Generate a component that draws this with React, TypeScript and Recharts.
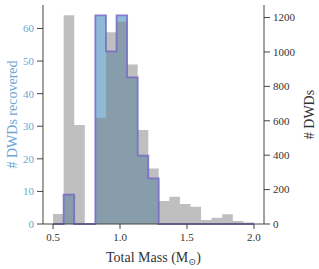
import { ComposedChart, Area, Line, XAxis, YAxis } from 'recharts'

// histogram bin edges in total mass (solar masses)
const binEdges = [
  0.5, 0.579, 0.658, 0.737, 0.816, 0.895, 0.974, 1.053, 1.132, 1.211, 1.289,
  1.368, 1.447, 1.526, 1.605, 1.684, 1.763, 1.842, 1.921, 2.0,
]
// all DWDs per bin (right axis)
const dwdCounts = [58, 1213, 576, 0, 618, 1115, 1175, 927, 547, 322, 133, 158, 116, 100, 23, 37, 56, 17, 8]
// recovered DWDs per bin (left axis)
const recoveredCounts = [0, 9, 0, 0, 64, 53, 64, 45, 21, 14, 0, 0, 0, 0, 0, 0, 0, 0, 0]

const massTicks = [0.5, 1.0, 1.5, 2.0]
const recoveredTicks = [0, 10, 20, 30, 40, 50, 60]
const dwdTicks = [0, 200, 400, 600, 800, 1000, 1200]

// stepAfter areas: each edge holds the value of the bin to its right
const data = binEdges.map((edge, i) => ({
  mass: edge,
  dwd: i < dwdCounts.length ? dwdCounts[i] : 0,
  recovered: i < recoveredCounts.length ? recoveredCounts[i] : 0,
}))

const FONT = '"Liberation Serif", "DejaVu Serif", serif'
const AXIS = '#444'
const BLUE_TEXT = '#6aa6d6'

function MassLabel({ viewBox }: any) {
  const { x, y, width } = viewBox
  return (
    <text x={x + width / 2} y={y + 38} textAnchor="middle" fontFamily={FONT} fontSize={14} fill="#333">
      Total Mass (M
      <tspan fontSize={9.5} dy={3}>⊙</tspan>
      <tspan dy={-3}>)</tspan>
    </text>
  )
}

function SideLabel({ viewBox, text, cx, color }: any) {
  const cy = viewBox.y + viewBox.height / 2
  return (
    <text
      x={cx}
      y={cy}
      transform={`rotate(-90 ${cx} ${cy})`}
      textAnchor="middle"
      dominantBaseline="central"
      fontFamily={FONT}
      fontSize={14}
      fill={color}
    >
      {text}
    </text>
  )
}

export default function App() {
  return (
    <div style={{ position: 'fixed', left: 0, top: 0, background: '#fff' }}>
      <ComposedChart
        width={319}
        height={269}
        data={data}
        margin={{ top: 5, right: 0, bottom: 0, left: 0 }}
      >
        <XAxis
          dataKey="mass"
          type="number"
          domain={[0.425, 2.075]}
          ticks={massTicks}
          tickFormatter={(v: number) => v.toFixed(1)}
          height={45}
          tickSize={5}
          tickMargin={4}
          stroke={AXIS}
          tick={{ fontSize: 11, fontFamily: FONT, fill: '#333' }}
          label={<MassLabel />}
        />
        <XAxis xAxisId="top" dataKey="mass" type="number" domain={[0.425, 2.075]} orientation="top" height={0} tick={false} tickLine={false} stroke={AXIS} />
        <YAxis
          yAxisId="left"
          domain={[0, 67.2]}
          ticks={recoveredTicks}
          width={43}
          tickSize={6}
          tickMargin={3}
          stroke={AXIS}
          tick={{ fontSize: 11, fontFamily: FONT, fill: BLUE_TEXT }}
          label={<SideLabel text="# DWDs recovered" cx={12} color={BLUE_TEXT} />}
        />
        <YAxis
          yAxisId="right"
          orientation="right"
          domain={[0, 1273]}
          ticks={dwdTicks}
          width={55}
          tickSize={6}
          tickMargin={3}
          stroke={AXIS}
          tick={{ fontSize: 11, fontFamily: FONT, fill: '#333' }}
          label={<SideLabel text="# DWDs" cx={309} color="#333" />}
        />
        <Area
          yAxisId="left"
          type="stepAfter"
          dataKey="recovered"
          fill="#1f77b4"
          fillOpacity={0.5}
          stroke="none"
          isAnimationActive={false}
        />
        <Area
          yAxisId="right"
          type="stepAfter"
          dataKey="dwd"
          fill="#808080"
          fillOpacity={0.5}
          stroke="none"
          isAnimationActive={false}
        />
        <Line
          yAxisId="left"
          type="stepAfter"
          dataKey="recovered"
          stroke="#7468c8"
          strokeWidth={1.8}
          strokeOpacity={0.85}
          dot={false}
          isAnimationActive={false}
        />
      </ComposedChart>
    </div>
  )
}
